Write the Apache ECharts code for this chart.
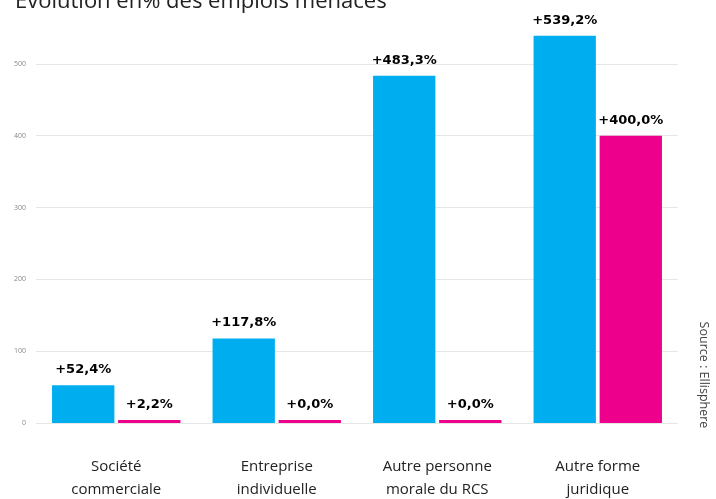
<!DOCTYPE html>
<html>
<head>
<meta charset="utf-8">
<script src="https://cdn.jsdelivr.net/npm/echarts@6/dist/echarts.min.js"></script>
<style>
  html, body { margin: 0; padding: 0; background: #fff; }
  #chart { width: 716px; height: 499px; }
</style>
</head>
<body>
<div id="chart"></div>
<script>
// Catégories de forme juridique et évolution des emplois menacés (en %)
const categories = ['Société\ncommerciale', 'Entreprise\nindividuelle', 'Autre personne\nmorale du RCS', 'Autre forme\njuridique'];
const serieBleue = [52.4, 117.8, 483.3, 539.2];
const serieRose = [2.2, 0.0, 0.0, 400.0];
const yTicks = [0, 100, 200, 300, 400, 500];

const fmt = v => '+' + v.toFixed(1).replace('.', ',') + '%';

const chart = echarts.init(document.getElementById('chart'));
chart.setOption({
  animation: false,
  title: {
    text: 'Evolution en% des emplois menacés',
    left: 10,
    top: -14,
    textStyle: { fontFamily: 'Open Sans', fontSize: 22, fontWeight: 'normal', color: '#222' }
  },
  // the 600 line sits just above the canvas, so only 0–500 gridlines show
  grid: { left: 36, right: 38, top: -8, bottom: 76, containLabel: false, outerBoundsMode: 'none' },
  xAxis: {
    type: 'category',
    data: categories,
    axisLine: { show: false },
    axisTick: { show: false },
    axisLabel: {
      margin: 32,
      fontFamily: 'Open Sans', fontSize: 15, color: '#222', lineHeight: 23
    }
  },
  yAxis: {
    type: 'value',
    min: 0, max: 600, interval: 100,
    axisLine: { show: false },
    axisTick: { show: false },
    axisLabel: {
      margin: 10,
      fontFamily: 'Open Sans', fontSize: 7, color: '#888',
      formatter: v => yTicks.includes(v) ? String(v) : ''
    },
    splitLine: { showMaxLine: false, lineStyle: { color: '#e6e6e6', width: 1 } }
  },
  series: [
    {
      type: 'bar', data: serieBleue, barGap: '6%', barCategoryGap: '20%',
      barMinHeight: 3,
      itemStyle: { color: '#00AEEF' },
      label: {
        show: true, position: 'top', distance: 9,
        formatter: p => fmt(p.value),
        fontFamily: 'DejaVu Sans', fontWeight: 'bold', fontSize: 13, color: '#000'
      }
    },
    {
      type: 'bar', data: serieRose,
      barMinHeight: 3,
      itemStyle: { color: '#EC008C' },
      label: {
        show: true, position: 'top', distance: 9,
        formatter: p => fmt(p.value),
        fontFamily: 'DejaVu Sans', fontWeight: 'bold', fontSize: 13, color: '#000'
      }
    }
  ],
  graphic: [{
    type: 'text',
    x: 704, y: 375,
    rotation: -Math.PI / 2,
    style: {
      text: 'Source : Ellisphere',
      font: '12.5px "Open Sans"',
      fill: '#444',
      textAlign: 'center',
      textVerticalAlign: 'middle'
    }
  }]
});
</script>
</body>
</html>
